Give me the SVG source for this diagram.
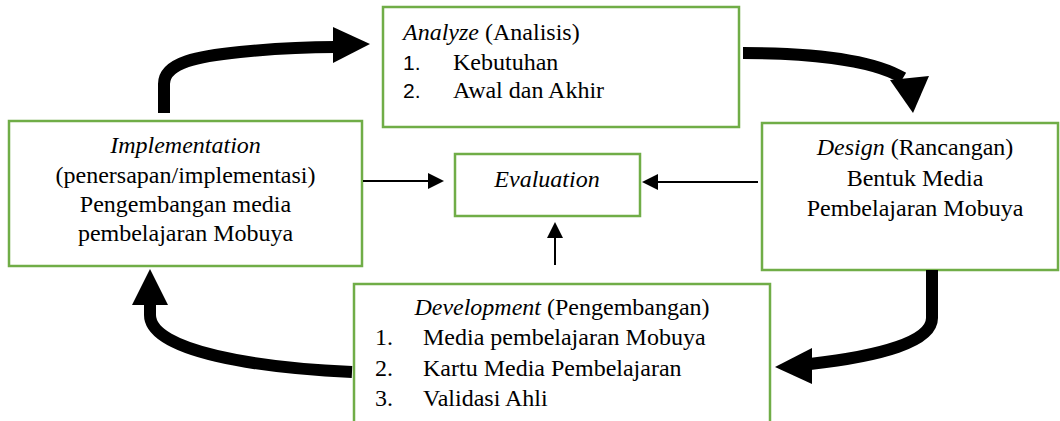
<svg xmlns="http://www.w3.org/2000/svg" width="1060" height="421" viewBox="0 0 1060 421">
<style>
.box{fill:#fff;stroke:#70AD47;stroke-width:2.5}
.t{font-family:"Liberation Serif","Times New Roman",serif;font-size:24px;fill:#000}
.s{font-family:"Liberation Sans",Arial,sans-serif;font-size:21px;fill:#000}
.i{font-style:italic}
.c{text-anchor:middle}
.thick{fill:none;stroke:#000;stroke-width:12}
.thin{fill:none;stroke:#000;stroke-width:2}
</style>
<rect width="1060" height="421" fill="#fff"/>
<g id="analyze">
<rect class="box" x="383" y="7" width="356" height="120"/>
<text class="t" x="403" y="40"><tspan class="i">Analyze</tspan> (Analisis)</text>
<text class="s" x="403" y="70">1.</text>
<text class="t" x="453" y="70">Kebutuhan</text>
<text class="s" x="403" y="98">2.</text>
<text class="t" x="453" y="98">Awal dan Akhir</text>
</g>
<g id="design">
<rect class="box" x="762" y="123" width="296" height="147"/>
<text class="t c" x="915" y="155"><tspan class="i">Design</tspan> (Rancangan)</text>
<text class="t c" x="915" y="186">Bentuk Media</text>
<text class="t c" x="915" y="216">Pembelajaran Mobuya</text>
</g>
<g id="implementation">
<rect class="box" x="9" y="121" width="353" height="145"/>
<text class="t c i" x="185.5" y="153">Implementation</text>
<text class="t c" x="185.5" y="183">(penersapan/implementasi)</text>
<text class="t c" x="185.5" y="212">Pengembangan media</text>
<text class="t c" x="185.5" y="241">pembelajaran Mobuya</text>
</g>
<g id="evaluation">
<rect class="box" x="455" y="154" width="185" height="62"/>
<text class="t c i" x="547" y="187">Evaluation</text>
</g>
<g id="development">
<rect class="box" x="354" y="284" width="416" height="145"/>
<text class="t c" x="562" y="315"><tspan class="i">Development</tspan> (Pengembangan)</text>
<text class="t" x="375" y="345">1.</text>
<text class="t" x="423" y="345">Media pembelajaran Mobuya</text>
<text class="t" x="375" y="376">2.</text>
<text class="t" x="423" y="376">Kartu Media Pembelajaran</text>
<text class="t" x="375" y="406">3.</text>
<text class="t" x="423" y="406">Validasi Ahli</text>
</g>
<g id="connectors">
<path class="thick" d="M164,113 L164,84 C164,62 200,56 240,52 C280,48 310,47 335,47"/>
<polygon points="333,27 370,44 333,63"/>
<path class="thick" d="M743,53 C800,53 870,58 903,78"/>
<polygon points="890,80 929,76 913,113"/>
<path class="thick" d="M932,270 L932,318 C932,342 880,356 810,364"/>
<polygon points="812,348 775,367 812,384"/>
<path class="thick" d="M352,372 C260,368 150,352 150,315 L150,303"/>
<polygon points="132,305 150,269 168,305"/>
<path class="thin" d="M363,181 L430,181"/>
<polygon points="428,173 444,181 428,189"/>
<path class="thin" d="M758,182 L656,182"/>
<polygon points="658,174 642,182 658,190"/>
<path class="thin" d="M555,265 L555,236"/>
<polygon points="547,238 555,222 563,238"/>
</g>
</svg>
